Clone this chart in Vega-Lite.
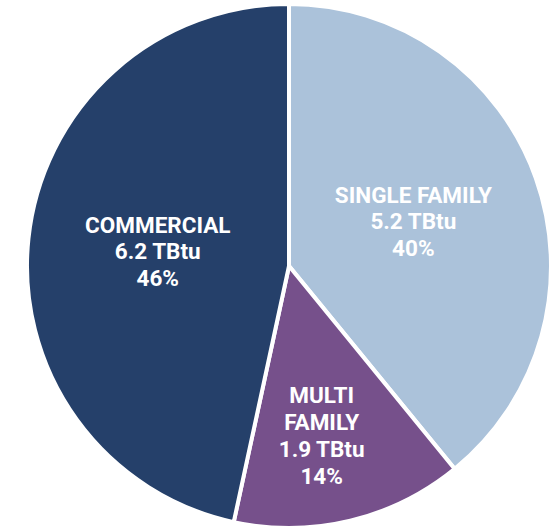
{
  "$schema": "https://vega.github.io/schema/vega-lite/v6.json",
  "autosize": {"type": "none"},
  "width": 540,
  "height": 524,
  "padding": {"left": 19, "top": 4, "right": 0, "bottom": 0},
  "background": "white",
  "view": {"stroke": null},
  "data": {
    "values": [
      {"segment": "SINGLE FAMILY", "order": 1, "tbtu": 5.2, "label": "SINGLE FAMILY\n5.2 TBtu\n40%"},
      {"segment": "MULTI FAMILY", "order": 2, "tbtu": 1.9, "label": "MULTI\nFAMILY\n1.9 TBtu\n14%"},
      {"segment": "COMMERCIAL", "order": 3, "tbtu": 6.2, "label": "COMMERCIAL\n6.2 TBtu\n46%"}
    ]
  },
  "encoding": {
    "theta": {"field": "tbtu", "type": "quantitative", "stack": true},
    "order": {"field": "order", "type": "quantitative"}
  },
  "layer": [
    {
      "mark": {"type": "arc", "stroke": "white", "strokeWidth": 4},
      "encoding": {
        "color": {
          "field": "segment",
          "type": "nominal",
          "scale": {"domain": ["SINGLE FAMILY", "MULTI FAMILY", "COMMERCIAL"], "range": ["#abc2da", "#76508b", "#25406a"]},
          "legend": null
        }
      }
    },
    {
      "mark": {"type": "text", "radius": 132, "dy": -26, "font": "Roboto", "fontWeight": "bold", "fontSize": 22.5, "color": "white", "lineBreak": "\n", "lineHeight": 26.5, "align": "center", "baseline": "middle"},
      "encoding": {"text": {"condition": {"test": "datum.segment !== 'MULTI FAMILY'", "field": "label"}, "value": ""}}
    },
    {
      "mark": {"type": "text", "radius": 178, "dx": -9, "dy": -43, "font": "Roboto", "fontWeight": "bold", "fontSize": 22.5, "color": "white", "lineBreak": "\n", "lineHeight": 27, "align": "center", "baseline": "middle"},
      "encoding": {"text": {"condition": {"test": "datum.segment === 'MULTI FAMILY'", "field": "label"}, "value": ""}}
    }
  ]
}
